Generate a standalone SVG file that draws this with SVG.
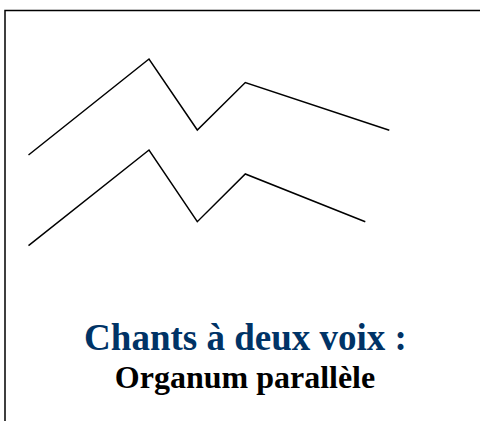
<svg xmlns="http://www.w3.org/2000/svg" width="480" height="421" viewBox="0 0 480 421">
<style>
.frame{fill:#fff;stroke:#000;stroke-width:1.5}
.voice{fill:none;stroke:#000;stroke-width:1.5;stroke-linejoin:miter}
.t{font-family:"Liberation Serif","Times New Roman",serif;font-weight:bold;text-anchor:middle}
</style>
<rect width="480" height="421" fill="#fff"/>
<rect class="frame" x="5" y="10.5" width="480" height="420"/>
<g id="lines">
<polyline id="voice1" class="voice" points="28.5,155 149,59 197.3,130 245.3,82.5 389.3,130.3"/>
<polyline id="voice2" class="voice" points="28.5,245.7 149,150 197.3,221.7 245.3,174 365.3,221.7"/>
</g>
<g id="title">
<text class="t" x="245.5" y="350" font-size="37" fill="#003366">Chants à deux voix :</text>
<text class="t" x="245" y="388" font-size="32" fill="#000">Organum parallèle</text>
</g>
</svg>
